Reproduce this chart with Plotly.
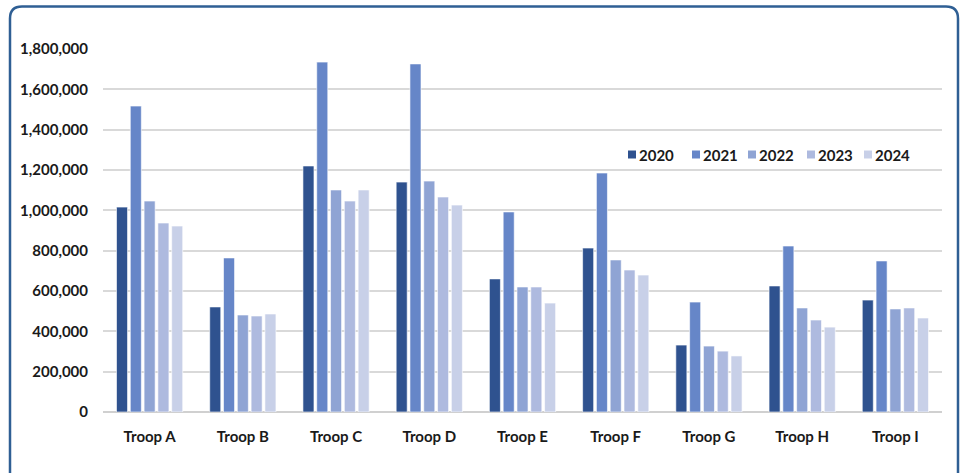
import plotly.graph_objects as go

categories = ["Troop A", "Troop B", "Troop C", "Troop D", "Troop E",
              "Troop F", "Troop G", "Troop H", "Troop I"]
years = ["2020", "2021", "2022", "2023", "2024"]
v2020 = [1016000, 521000, 1220000, 1140000, 660000, 813000, 332000, 625000, 555000]
v2021 = [1517000, 764000, 1735000, 1726000, 992000, 1185000, 545000, 823000, 749000]
v2022 = [1046000, 481000, 1101000, 1145000, 620000, 754000, 327000, 516000, 511000]
v2023 = [937000, 476000, 1046000, 1066000, 620000, 704000, 302000, 456000, 516000]
v2024 = [922000, 486000, 1101000, 1026000, 540000, 679000, 278000, 421000, 466000]
series = [v2020, v2021, v2022, v2023, v2024]
colors = ["#2f528f", "#6686c8", "#8fa4d4", "#aebadf", "#c8d0e8"]
y_ticks = [0, 200000, 400000, 600000, 800000, 1000000, 1200000, 1400000, 1600000, 1800000]

FONT = "Lato"
FS = 15
TXT = "#1a1a1a"

fig = go.Figure()
for name, vals, col in zip(years, series, colors):
    fig.add_trace(go.Bar(
        x=categories, y=vals, name=name, showlegend=False,
        marker=dict(color=col, line=dict(color="rgba(255,255,255,0.6)", width=1)),
    ))

W, H = 962, 473
L, R, T, B = 103, 20, 49, 61
pw, ph = W - L - R, H - T - B

def px(x):
    return (x - L) / pw

def py(y):
    return (H - B - y) / ph

def P(x, y):
    return f"{px(x):.5f},{py(y):.5f}"

# rounded frame (bottom edge runs off the canvas)
x0, x1, y0, y1, r = 10, 958, 6.5, 495, 12
path = (f"M {P(x0 + r, y0)} L {P(x1 - r, y0)} Q {P(x1, y0)} {P(x1, y0 + r)} "
        f"L {P(x1, y1 - r)} Q {P(x1, y1)} {P(x1 - r, y1)} "
        f"L {P(x0 + r, y1)} Q {P(x0, y1)} {P(x0, y1 - r)} "
        f"L {P(x0, y0 + r)} Q {P(x0, y0)} {P(x0 + r, y0)} Z")
shapes = [dict(type="path", path=path, xref="paper", yref="paper",
               line=dict(color="#2f5f94", width=2.5), fillcolor="rgba(0,0,0,0)",
               layer="below")]

# legend (key squares + labels), screen-pixel layout
legend_left = [628, 692, 748, 807, 864]
sq, leg_y = 8, 154.5
annotations = []
for name, col, lx in zip(years, colors, legend_left):
    shapes.append(dict(type="rect", xref="paper", yref="paper",
                       x0=px(lx), x1=px(lx + sq), y0=py(leg_y + sq / 2), y1=py(leg_y - sq / 2),
                       fillcolor=col, line=dict(width=0)))
    annotations.append(dict(text=f"<b>{name}</b>", xref="paper", yref="paper",
                            x=px(lx + sq + 1), y=py(leg_y + 0.5), xanchor="left", yanchor="middle",
                            showarrow=False, font=dict(family=FONT, size=FS, color=TXT)))

fig.update_layout(
    width=W, height=H,
    margin=dict(l=L, r=R, t=T, b=B, autoexpand=False),
    paper_bgcolor="white", plot_bgcolor="white",
    barmode="group", bargap=0.26, bargroupgap=0.2,
    font=dict(family=FONT, size=FS, color=TXT),
    shapes=shapes, annotations=annotations, showlegend=False,
    xaxis=dict(showgrid=False, showline=False, ticks="", automargin=False,
               tickfont=dict(family=FONT, size=FS, color=TXT, weight="bold"),
               ticklabelstandoff=14),
    yaxis=dict(range=[0, 1800000], tickvals=y_ticks, tickformat=",d", automargin=False,
               showgrid=True, gridcolor="#d9d9d9", gridwidth=1.5,
               zeroline=True, zerolinecolor="#d0d0d0", zerolinewidth=1.5,
               showline=False, ticks="",
               tickfont=dict(family=FONT, size=FS, color=TXT, weight="bold"),
               ticklabelstandoff=14),
)

fig.write_html("out.html", config={"displayModeBar": False},
               post_script="document.body.style.margin='0';document.body.style.overflow='hidden';")
